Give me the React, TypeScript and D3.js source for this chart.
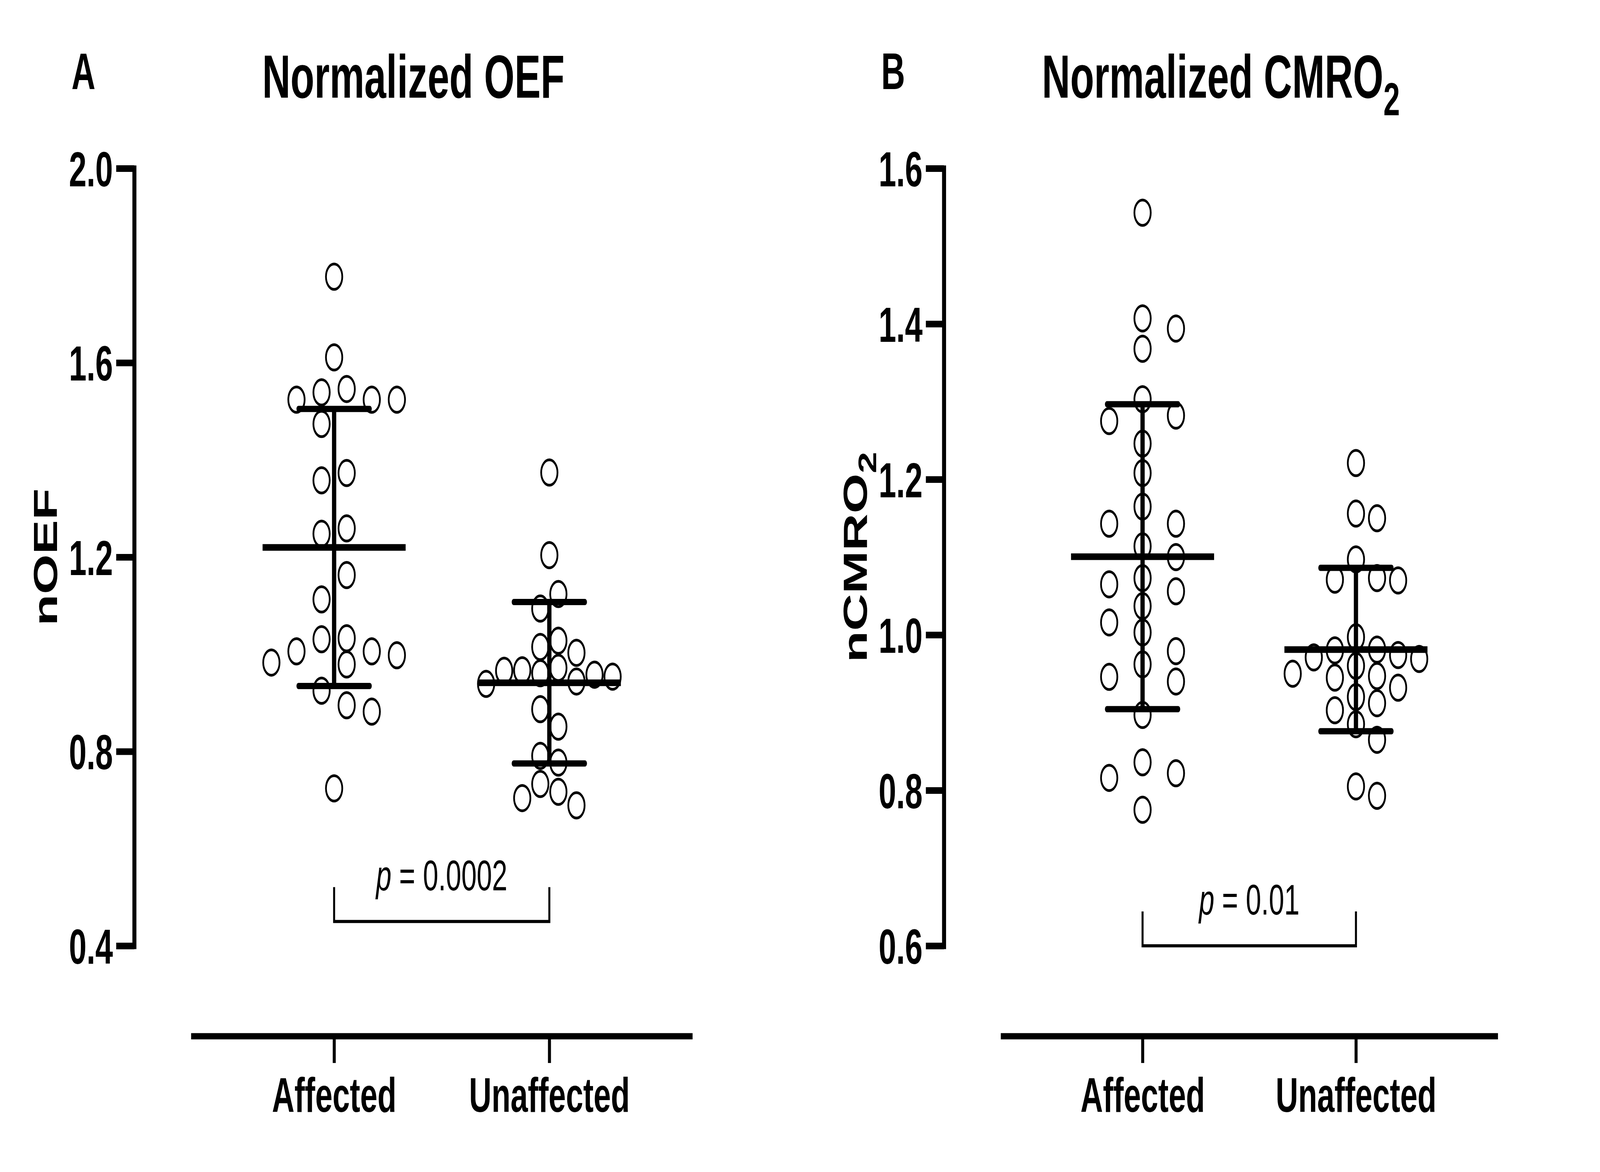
import React, { useEffect, useRef } from 'react';
import * as d3 from 'd3';

// group names on the x axis
const groups = ['Affected', 'Unaffected'];

// normalized OEF
const oefAffected = [
  1.777, 1.611, 1.546, 1.524, 1.539, 1.524, 1.524, 1.474, 1.358, 1.373, 1.248, 1.259, 1.163,
  1.113, 1.031, 1.006, 0.983, 0.998, 1.033, 0.979, 1.006, 0.925, 0.895, 0.882, 0.724,
];
const oefUnaffected = [
  1.374, 1.204, 1.124, 1.094, 1.003, 1.015, 1.028, 0.966, 0.972, 0.958, 0.939, 0.944, 0.954,
  0.967, 0.961, 0.887, 0.851, 0.777, 0.791, 0.733, 0.689, 0.704, 0.717,
];

// normalized CMRO2
const cmroAffected = [
  1.543, 1.394, 1.407, 1.368, 1.303, 1.282, 1.275, 1.246, 1.208, 1.165, 1.143, 1.143, 1.114,
  1.1, 1.073, 1.065, 1.056, 1.037, 1.016, 1.003, 0.979, 0.962, 0.946, 0.94, 0.897, 0.836,
  0.816, 0.822, 0.775,
];
const cmroUnaffected = [
  1.221, 1.156, 1.15, 1.097, 1.07, 1.073, 1.071, 0.997, 0.981, 0.98, 0.969, 0.971, 0.974, 0.95,
  0.947, 0.945, 0.96, 0.932, 0.92, 0.903, 0.912, 0.885, 0.865, 0.793, 0.805,
];

const oefTicks = [0.4, 0.8, 1.2, 1.6, 2.0];
const cmroTicks = [0.6, 0.8, 1.0, 1.2, 1.4, 1.6];

const oefP = '0.0002';
const cmroP = '0.01';

const W = 6375;
const H = 3000;
const FONT = '"Liberation Sans", Arial, Helvetica, sans-serif';
const TOP = 431;
const BOTTOM = 2421;
const X_AXIS_Y = 2652;
const R = 32.5;
const MIN_DIST = 64;

// lattice beeswarm (Prism-like): lone points sit on the centre line, the others take
// the nearest free column; ties go to the emptier side
function swarm(values: number[], y: (v: number) => number, spacing: number, half: boolean) {
  const sorted = values.slice().sort((a, b) => b - a);
  const ys = sorted.map(y);
  const cols: number[] = [];
  if (half) for (let k = 0; k < 20; k++) cols.push(k + 0.5);
  else for (let k = 0; k < 20; k++) cols.push(k);
  const placed: { v: number; x: number; y: number }[] = [];
  const free = (px: number, py: number) =>
    placed.every((p) => (p.x - px) ** 2 + (p.y - py) ** 2 >= MIN_DIST * MIN_DIST);
  sorted.forEach((v, i) => {
    const py = ys[i];
    const lone = ys.every((o, j) => j === i || Math.abs(o - py) >= MIN_DIST);
    let px = 0;
    if (!lone) {
      const near = placed.filter((p) => Math.abs(p.y - py) < MIN_DIST * 1.5);
      const bias = d3.sum(near, (p) => p.x);
      for (const c of cols) {
        const first = (bias > 0 ? -c : c) * spacing;
        if (free(first, py)) {
          px = first;
          break;
        }
        if (c !== 0 && free(-first, py)) {
          px = -first;
          break;
        }
      }
    }
    placed.push({ v, x: px, y: py });
  });
  return placed;
}

interface PanelProps {
  axisX: number;
  xEnd: number;
  domain: [number, number];
  ticks: number[];
  series: number[][];
  spacing: number[];
  halfCols: boolean[];
  letter: string;
  title: string;
  titleSub?: string;
  yLabel: string;
  yLabelSub?: string;
  pValue: string;
  bracketBase: number;
}

function Panel({
  axisX,
  xEnd,
  domain,
  ticks,
  series,
  spacing,
  halfCols,
  letter,
  title,
  titleSub,
  yLabel,
  yLabelSub,
  pValue,
  bracketBase,
}: PanelProps) {
  const $yAxis: any = useRef(null);
  const $xAxis: any = useRef(null);

  const xStart = axisX + 226;
  const y = d3.scaleLinear().domain(domain).range([BOTTOM, TOP]);
  const x = d3.scalePoint<string>().domain(groups).range([xStart, xEnd]).padding(0.665);

  useEffect(() => {
    const g = d3.select($yAxis.current);
    g.call(
      d3
        .axisLeft(y)
        .tickValues(ticks)
        .tickSize(72)
        .tickSizeOuter(0)
        .tickPadding(13)
        .tickFormat(d3.format('.1f'))
    );
    g.attr('font-family', FONT).attr('font-size', 126).attr('font-weight', 'bold');
    g.select('.domain').attr('stroke-width', 16).attr('stroke-linecap', 'square');
    g.selectAll('.tick line').attr('stroke-width', 17);
    g.selectAll('.tick text').attr('dy', '0.36em').attr('fill', '#000');
  }, [$yAxis, ticks, y]);

  useEffect(() => {
    const g = d3.select($xAxis.current);
    g.call(d3.axisBottom(x).tickSize(69).tickSizeOuter(0).tickPadding(37));
    g.attr('font-family', FONT).attr('font-size', 124).attr('font-weight', 'bold');
    g.select('.domain').attr('stroke-width', 16);
    g.selectAll('.tick line').attr('stroke-width', 12);
    g.selectAll('.tick text').attr('fill', '#000');
  }, [$xAxis, x]);

  const midY = (TOP + BOTTOM) / 2;
  const titleX = (axisX + xEnd) / 2;
  const x0 = x(groups[0]) as number;
  const x1 = x(groups[1]) as number;
  const bBottom = y(bracketBase);
  const bTop = bBottom - 88;

  return (
    <g fontFamily={FONT}>
      <text x={axisX - 250} y={228} fontSize={132} fontWeight="bold">
        {letter}
      </text>
      <text x={titleX} y={250} fontSize={156} fontWeight="bold" textAnchor="middle">
        {title}
        {titleSub && (
          <tspan dy={45} fontSize={118}>
            {titleSub}
          </tspan>
        )}
      </text>
      <text
        transform={`translate(${axisX - 308},${midY}) rotate(-90)`}
        fontSize={132}
        fontWeight="bold"
        textAnchor="middle"
      >
        {yLabel}
        {yLabelSub && (
          <tspan dy={38} fontSize={100}>
            {yLabelSub}
          </tspan>
        )}
      </text>

      {series.map((vals, gi) => {
        const cx = x(groups[gi]) as number;
        const pts = swarm(vals, y, spacing[gi], halfCols[gi]);
        const m = d3.mean(vals) as number;
        const sd = d3.deviation(vals) as number;
        return (
          <g key={groups[gi]}>
            {pts.map((p, i) => (
              <circle
                key={i}
                cx={cx + p.x}
                cy={p.y}
                r={R}
                fill="none"
                stroke="#000"
                strokeWidth={7}
              />
            ))}
            <line x1={cx} x2={cx} y1={y(m + sd)} y2={y(m - sd)} stroke="#000" strokeWidth={17} />
            <line
              x1={cx - 142}
              x2={cx + 142}
              y1={y(m + sd)}
              y2={y(m + sd)}
              stroke="#000"
              strokeWidth={16}
              strokeLinecap="round"
            />
            <line
              x1={cx - 142}
              x2={cx + 142}
              y1={y(m - sd)}
              y2={y(m - sd)}
              stroke="#000"
              strokeWidth={16}
              strokeLinecap="round"
            />
            <line x1={cx - 285} x2={cx + 285} y1={y(m)} y2={y(m)} stroke="#000" strokeWidth={17} />
          </g>
        );
      })}

      <path
        d={`M${x0},${bTop}V${bBottom}H${x1}V${bTop}`}
        fill="none"
        stroke="#000"
        strokeWidth={8}
      />
      <text x={(x0 + x1) / 2} y={bTop + 8} fontSize={110} textAnchor="middle">
        <tspan fontStyle="italic">p</tspan> = {pValue}
      </text>

      <g ref={$yAxis} transform={`translate(${axisX},0)`} />
      <g ref={$xAxis} transform={`translate(0,${X_AXIS_Y})`} />
    </g>
  );
}

export default function App() {
  return (
    <svg
      viewBox={`0 0 ${W} ${H}`}
      preserveAspectRatio="none"
      style={{
        position: 'fixed',
        left: 0,
        top: 0,
        width: '100vw',
        height: '100vh',
        display: 'block',
        background: '#fff',
      }}
    >
      <rect width={W} height={H} fill="#fff" />
      <Panel
        axisX={535}
        xEnd={2759}
        domain={[0.4, 2.0]}
        ticks={oefTicks}
        series={[oefAffected, oefUnaffected]}
        spacing={[100, 72]}
        halfCols={[true, true]}
        letter="A"
        title="Normalized OEF"
        yLabel="nOEF"
        pValue={oefP}
        bracketBase={0.45}
      />
      <Panel
        axisX={3761}
        xEnd={5968}
        domain={[0.6, 1.6]}
        ticks={cmroTicks}
        series={[cmroAffected, cmroUnaffected]}
        spacing={[133, 84]}
        halfCols={[false, false]}
        letter="B"
        title="Normalized CMRO"
        titleSub="2"
        yLabel="nCMRO"
        yLabelSub="2"
        pValue={cmroP}
        bracketBase={0.6}
      />
    </svg>
  );
}
